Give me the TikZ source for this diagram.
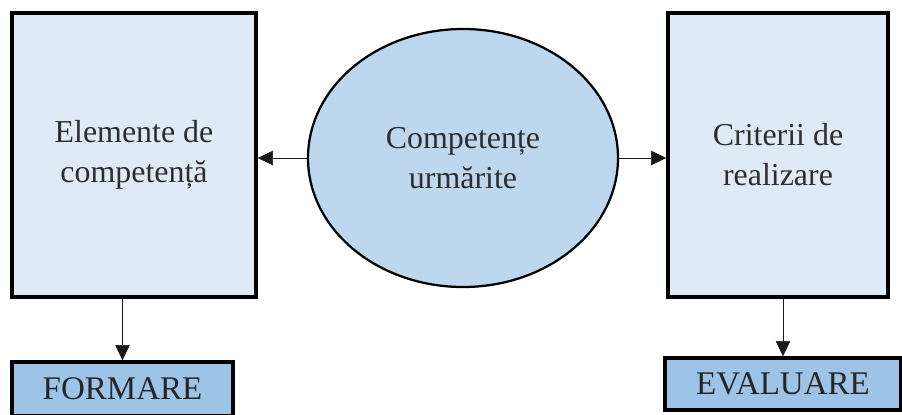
\documentclass[tikz,border=0pt]{standalone}
\usepackage{fontspec}
\setmainfont{Liberation Serif}
\usetikzlibrary{arrows.meta,positioning,shapes.geometric}
\definecolor{boxfill}{HTML}{DEEBF7}
\definecolor{ovalfill}{HTML}{BDD7EE}
\definecolor{basefill}{HTML}{9DC3E6}
\definecolor{inktext}{HTML}{2E2E2E}

\begin{document}
\begin{tikzpicture}[
  >={Triangle[length=3.8mm, width=3.6mm]},
  every node/.style={font=\fontsize{22.7}{28.5}\selectfont, text=inktext, align=center},
  panel/.style={draw, line width=2.4pt, fill=boxfill, minimum height=7.1cm},
  oval/.style={draw, ellipse, line width=1.6pt, fill=ovalfill, inner sep=0pt,
    minimum width=7.75cm, minimum height=6.45cm},
  outcome/.style={draw, line width=2.4pt, fill=basefill,
    font=\fontsize{23.5}{28}\selectfont, text=black!85},
  link/.style={->, thin, black!90},
]
\useasboundingbox (0, 0) rectangle (22.55, 10.35);

\node[panel, minimum width=6.1cm] (elem) at (3.35, 6.475)
  {Elemente de\\competență};
\node[panel, minimum width=5.5cm] (crit) at (19.45, 6.475)
  {Criterii de\\realizare};
\node[oval] (comp) at (11.575, 6.4) {Competențe\\urmărite};

\node[outcome, minimum width=5.525cm, minimum height=1.35cm] (form)
  at (3.0625, 0.625) {FORMARE};
\node[outcome, minimum width=5.9cm, minimum height=1.3cm] (eval)
  at (19.575, 0.75) {EVALUARE};

\draw[link] (comp.west) -- (comp.west -| elem.east);
\draw[link] (comp.east) -- (comp.east -| crit.west);
\draw[link] (elem.south -| form.north) -- (form.north);
\draw[link] (crit.south -| eval.north) -- (eval.north);
\end{tikzpicture}
\end{document}
